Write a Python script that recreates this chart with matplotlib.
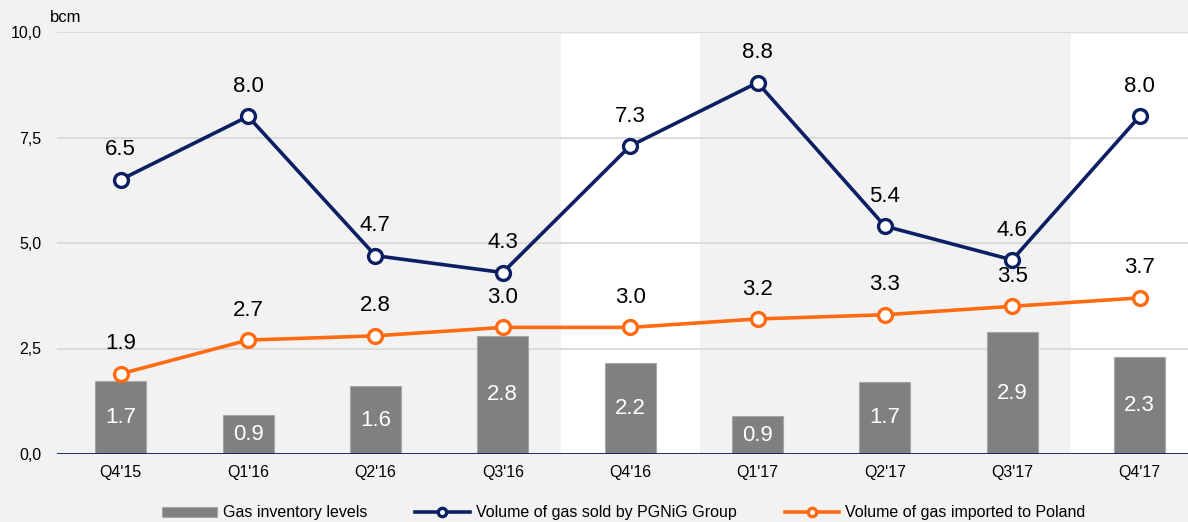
import numpy as np
import matplotlib.pyplot as plt

plt.rcParams['font.family'] = ['Liberation Sans', 'DejaVu Sans']

quarters = ["Q4'15", "Q1'16", "Q2'16", "Q3'16", "Q4'16", "Q1'17", "Q2'17", "Q3'17", "Q4'17"]
inventory = [1.74, 0.92, 1.61, 2.80, 2.16, 0.90, 1.71, 2.89, 2.30]
sold = [6.5, 8.0, 4.7, 4.3, 7.3, 8.8, 5.4, 4.6, 8.0]
imported = [1.9, 2.7, 2.8, 3.0, 3.0, 3.2, 3.3, 3.5, 3.7]
highlighted = ["Q4'16", "Q4'17"]
yticks = [0, 2.5, 5.0, 7.5, 10.0]

bg = '#f2f2f2'
navy = '#0d1f63'
orange = '#ff6b12'
grey = '#808080'

fig = plt.figure(figsize=(11.88, 5.22), dpi=100, facecolor=bg)
ax = fig.add_axes([57 / 1188, 1 - 454 / 522, 1 - 57 / 1188, (454 - 32) / 522])
ax.set_facecolor(bg)

x = np.arange(len(quarters))

for q in highlighted:
    i = quarters.index(q)
    ax.axvspan(i - 0.54, i + 0.54, ymin=0, ymax=0.995, color='white', zorder=0)

for t in yticks[1:]:
    ax.axhline(t, color='#d9d9d9', lw=1.3, zorder=1)
ax.axhline(0, color=navy, lw=1.3, zorder=4)

ax.bar(x, inventory, width=0.4, color=grey, edgecolor='#a6a6a6', lw=0.8,
       zorder=2, label='Gas inventory levels')
for xi, h in zip(x, inventory):
    ax.text(xi, h / 2, f"{h:.1f}", ha='center', va='center', color='white',
            fontsize=16, zorder=5)

ax.plot(x, sold, color=navy, lw=2.6, marker='o', markersize=10, markerfacecolor='white',
        markeredgecolor=navy, markeredgewidth=2.4, zorder=6,
        label='Volume of gas sold by PGNiG Group')
ax.plot(x, imported, color=orange, lw=2.6, marker='o', markersize=10, markerfacecolor='white',
        markeredgecolor=orange, markeredgewidth=2.4, zorder=6,
        label='Volume of gas imported to Poland')

for xi, v in zip(x, sold):
    ax.annotate(f"{v:.1f}", (xi, v), xytext=(0, 21.5), textcoords='offset points',
                ha='center', va='center', fontsize=16, color='black', zorder=7)
for xi, v in zip(x, imported):
    ax.annotate(f"{v:.1f}", (xi, v), xytext=(0, 21.5), textcoords='offset points',
                ha='center', va='center', fontsize=16, color='black', zorder=7)

ax.set_xlim(-0.5, 8.38)
ax.set_ylim(0, 10)
ax.set_xticks(x)
ax.set_xticklabels(quarters, fontsize=11.5)
ax.set_yticks(yticks)
ax.set_yticklabels([f"{t:.1f}".replace('.', ',') for t in yticks], fontsize=11.5)
ax.tick_params(axis='both', length=0)
ax.tick_params(axis='x', pad=8)
ax.tick_params(axis='y', pad=11)
for s in ax.spines.values():
    s.set_visible(False)

fig.text(50 / 1188, 1 - 17 / 522, 'bcm', fontsize=12, ha='left', va='center')

handles, labels = ax.get_legend_handles_labels()
order = [labels.index('Gas inventory levels'),
         labels.index('Volume of gas sold by PGNiG Group'),
         labels.index('Volume of gas imported to Poland')]
fig.legend([handles[k] for k in order], [labels[k] for k in order],
           loc='center', bbox_to_anchor=(624 / 1188, 1 - 513 / 522), ncol=3, frameon=False,
           fontsize=11.5, handlelength=3.4, handleheight=0.6, columnspacing=3.0,
           handletextpad=0.4, markerscale=0.6, borderaxespad=0)

fig.savefig('out.png', dpi=100, facecolor=bg)
